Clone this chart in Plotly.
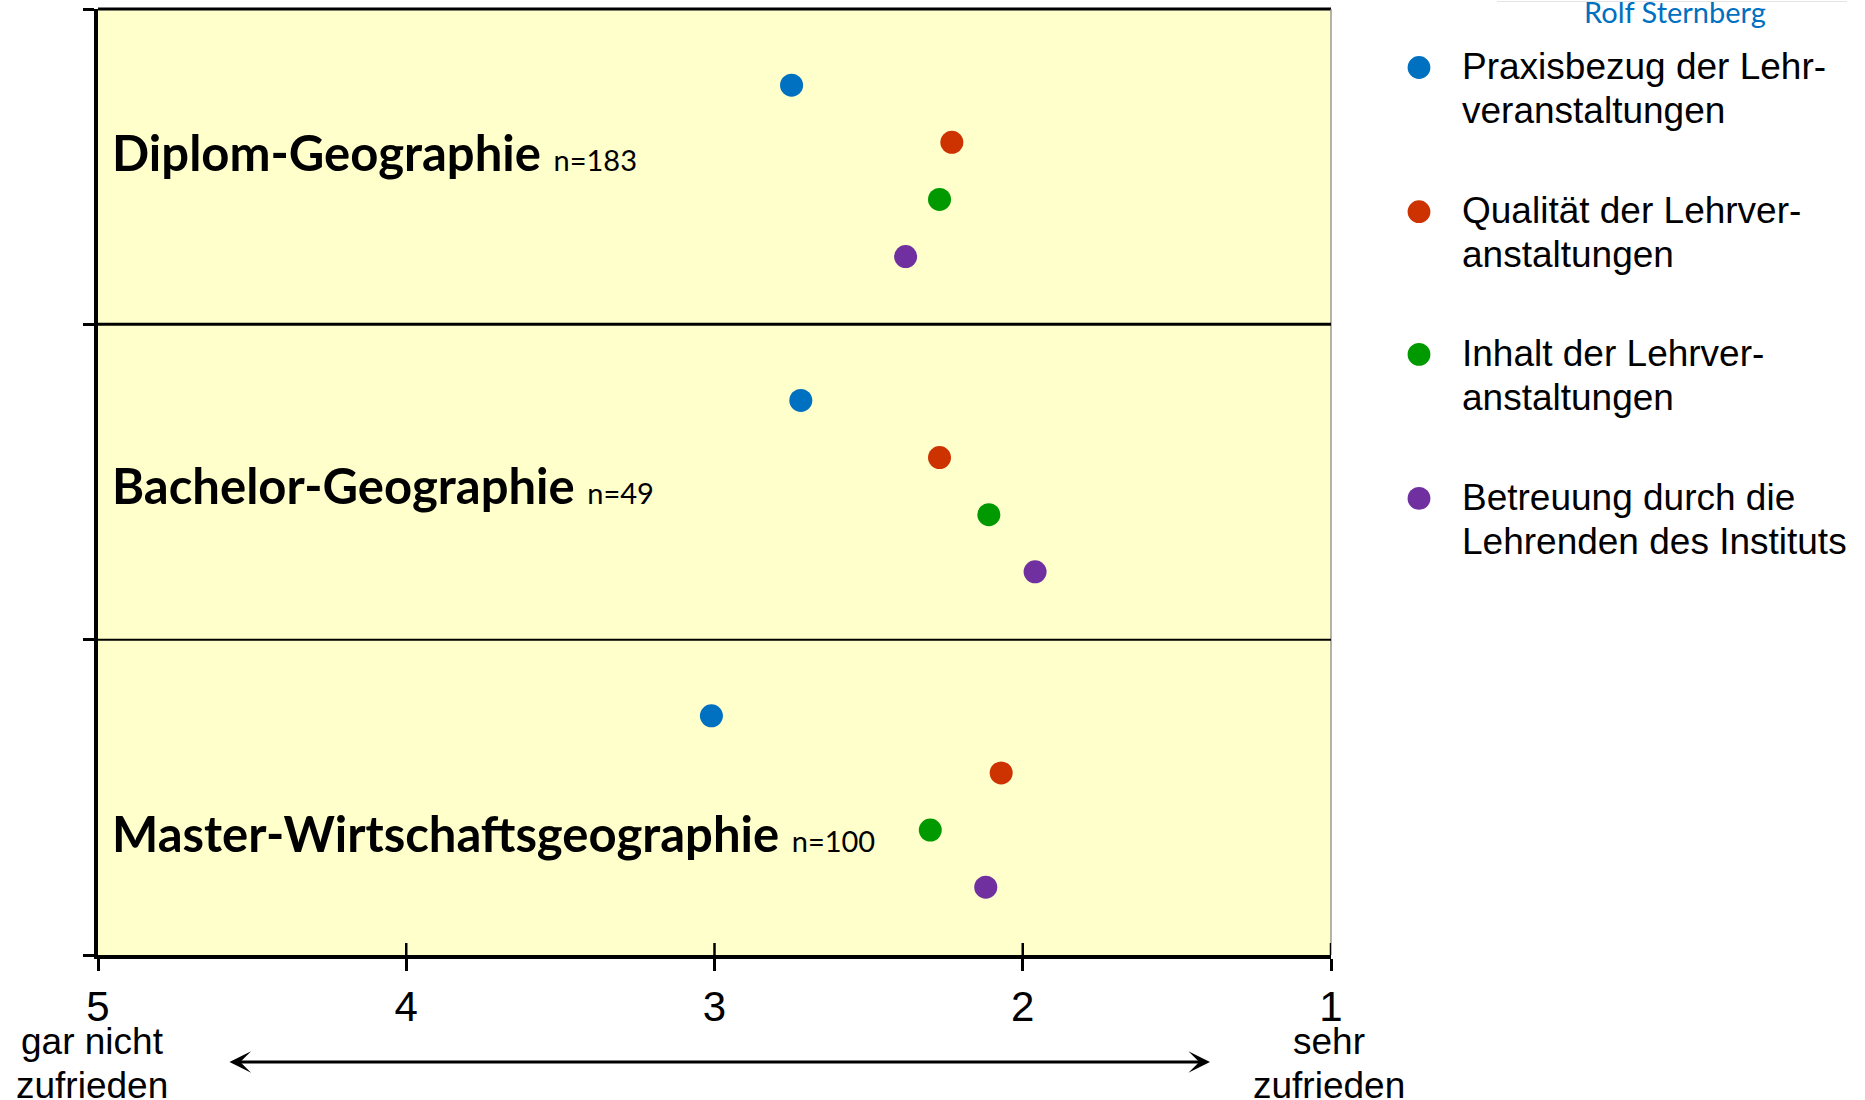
import plotly.graph_objects as go

# ---------------- data ----------------
programs = ["Diplom-Geographie", "Bachelor-Geographie", "Master-Wirtschaftsgeographie"]
sample_sizes = ["n=183", "n=49", "n=100"]

criteria = [
    "Praxisbezug der Lehrveranstaltungen",
    "Qualität der Lehrveranstaltungen",
    "Inhalt der Lehrveranstaltungen",
    "Betreuung durch die Lehrenden des Instituts",
]
legend_lines = [
    ["Praxisbezug der Lehr-", "veranstaltungen"],
    ["Qualität der Lehrver-", "anstaltungen"],
    ["Inhalt der Lehrver-", "anstaltungen"],
    ["Betreuung durch die", "Lehrenden des Instituts"],
]
colors = ["#0070C0", "#CC3300", "#009900", "#7030A0"]

# mean grades per program (Diplom, Bachelor, Master); 1 = sehr zufrieden, 5 = gar nicht zufrieden
praxisbezug = [2.75, 2.72, 3.01]
qualitaet = [2.23, 2.27, 2.07]
inhalt = [2.27, 2.11, 2.30]
betreuung = [2.38, 1.96, 2.12]
series = [praxisbezug, qualitaet, inhalt, betreuung]

x_ticks = [5, 4, 3, 2, 1]
x_tick_labels = ["5", "4", "3", "2", "1"]
scale_low_label = ["gar nicht", "zufrieden"]
scale_high_label = ["sehr", "zufrieden"]
author = "Rolf Sternberg"

# ---------------- layout constants ----------------
W, H = 1865, 1100
L, R, T, B = 98, 534, 9, 145
PW, PH = W - L - R, H - T - B
row_offsets = [0.2415, 0.4227, 0.6038, 0.785]   # position of each criterion inside a band


def px_x(px):
    return (px - L) / PW


def px_y(py):
    return 1 - (py - T) / PH


n_prog = len(programs)
fig = go.Figure()

for j, vals in enumerate(series):
    fig.add_trace(go.Scatter(
        x=vals,
        y=[n_prog - i - row_offsets[j] for i in range(n_prog)],
        mode="markers",
        marker=dict(size=23, color=colors[j], line=dict(width=0)),
        name=criteria[j],
        showlegend=False,
        hoverinfo="x+name",
    ))

shapes = []
# top border
shapes.append(dict(type="line", xref="paper", yref="paper", x0=0, x1=1, y0=1, y1=1,
                   line=dict(color="black", width=3)))
# right thin grey border
shapes.append(dict(type="line", xref="paper", yref="paper", x0=1, x1=1, y0=0, y1=1,
                   line=dict(color="#808080", width=1.2)))
# band dividers
shapes.append(dict(type="line", xref="paper", yref="y", x0=0, x1=1, y0=2, y1=2,
                   line=dict(color="black", width=3)))
shapes.append(dict(type="line", xref="paper", yref="y", x0=0, x1=1, y0=1, y1=1,
                   line=dict(color="black", width=2)))
# upper parts of x ticks (ticks cross the axis)
for tv in x_ticks[1:]:
    shapes.append(dict(type="line", xref="x", yref="paper", x0=tv, x1=tv, y0=0, y1=px_y(943),
                       line=dict(color="black", width=2.5)))
# faint line at the very top right
shapes.append(dict(type="line", xref="paper", yref="paper", x0=px_x(1497), x1=px_x(1847),
                   y0=px_y(1.5), y1=px_y(1.5), line=dict(color="#e4e4e4", width=1)))

# legend markers
legend_y = [67.5, 211.7, 354.4, 498.4]
legend_marker_x = 1419
legend_text_x = 1460
for j in range(len(criteria)):
    shapes.append(dict(type="circle", xref="paper", yref="paper",
                       xsizemode="pixel", ysizemode="pixel",
                       xanchor=px_x(legend_marker_x), yanchor=px_y(legend_y[j]),
                       x0=-11.4, x1=11.4, y0=-11.4, y1=11.4,
                       fillcolor=colors[j], line=dict(width=0)))

annotations = []
# band labels
label_y = [152, 485, 833]
for i, prog in enumerate(programs):
    annotations.append(dict(
        xref="paper", yref="paper", x=px_x(110), y=px_y(label_y[i]),
        xanchor="left", yanchor="middle", showarrow=False,
        text=f"<b>{prog}</b> <span style='font-size:29px'>{sample_sizes[i]}</span>",
        font=dict(family="Lato", size=49, color="black"),
    ))

# legend texts
for j, lines in enumerate(legend_lines):
    for k, line in enumerate(lines):
        annotations.append(dict(
            xref="paper", yref="paper", x=px_x(legend_text_x), y=px_y(legend_y[j] - 1 + 44.2 * k),
            xanchor="left", yanchor="middle", showarrow=False, text=line,
            font=dict(family="Liberation Sans, Arial", size=37, color="black"),
        ))

# scale end labels
for k, line in enumerate(scale_low_label):
    annotations.append(dict(
        xref="paper", yref="paper", x=px_x(92), y=px_y(1041 + 44 * k),
        xanchor="center", yanchor="middle", showarrow=False, text=line,
        font=dict(family="Liberation Sans, Arial", size=37, color="black"),
    ))
for k, line in enumerate(scale_high_label):
    annotations.append(dict(
        xref="paper", yref="paper", x=px_x(1329), y=px_y(1041 + 44 * k),
        xanchor="center", yanchor="middle", showarrow=False, text=line,
        font=dict(family="Liberation Sans, Arial", size=37, color="black"),
    ))

# double-headed arrow
annotations.append(dict(
    xref="paper", yref="paper", x=px_x(1210), y=px_y(1062),
    axref="pixel", ayref="pixel", ax=-(1210 - 228), ay=0,
    showarrow=True, arrowhead=3, startarrowhead=3, arrowside="end+start",
    arrowsize=1.2, startarrowsize=1.2, arrowwidth=3, arrowcolor="black", text="",
))

# author
annotations.append(dict(
    xref="paper", yref="paper", x=px_x(1675), y=px_y(11),
    xanchor="center", yanchor="middle", showarrow=False, text=author,
    font=dict(family="Lato", size=29, color="#0070C0"),
))

fig.update_layout(
    width=W, height=H, autosize=False,
    margin=dict(l=L, r=R, t=T, b=B, pad=0),
    paper_bgcolor="white",
    plot_bgcolor="#FFFFCC",
    showlegend=False,
    shapes=shapes,
    annotations=annotations,
    xaxis=dict(
        range=[5, 1], tickmode="array", tickvals=x_ticks, ticktext=x_tick_labels,
        showgrid=False, zeroline=False, showline=True, linecolor="black", linewidth=4,
        ticks="outside", ticklen=12, tickwidth=2.5, tickcolor="black",
        tickfont=dict(family="Liberation Sans, Arial", size=42, color="black"),
        fixedrange=True,
    ),
    yaxis=dict(
        range=[0, 3], tickmode="array", tickvals=[0, 1, 2, 3],
        showticklabels=False, showgrid=False, zeroline=False,
        showline=True, linecolor="black", linewidth=4,
        ticks="outside", ticklen=11, tickwidth=3, tickcolor="black",
        fixedrange=True,
    ),
)

fig.write_html(
    "out.html",
    config={"displayModeBar": False},
    post_script="document.body.style.margin='0';document.body.style.overflow='hidden';",
)
